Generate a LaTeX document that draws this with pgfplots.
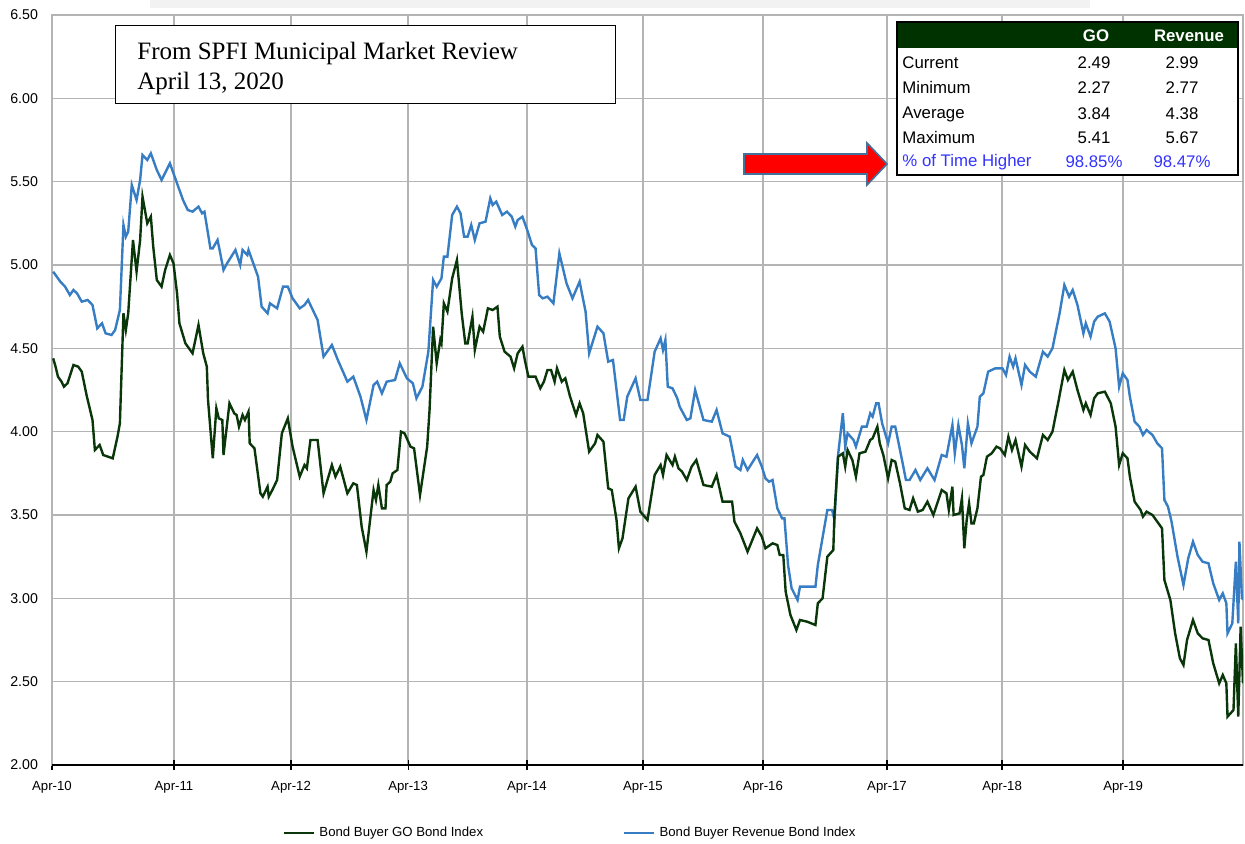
\documentclass[border=0pt]{standalone}
\usepackage{pgfplots}
\pgfplotsset{compat=1.18}
\usepackage{fontspec}
\setmainfont{Liberation Sans}
\newfontfamily\timesfont{Liberation Serif}
\definecolor{gocol}{RGB}{10,55,10}
\definecolor{revcol}{RGB}{55,125,195}
\definecolor{hdrcol}{RGB}{0,50,0}
\definecolor{pctcol}{RGB}{51,51,255}
\definecolor{gridcol}{RGB}{180,180,180}
\definecolor{arrowedge}{RGB}{65,113,156}
\begin{document}
\begin{tikzpicture}
\path[use as bounding box] (-26pt,-39.5pt) rectangle (596.5pt,382.5pt);
\fill[black!5] (49pt,378.5pt) rectangle (519pt,382.5pt);
\begin{axis}[
  scale only axis, width=595.5pt, height=375pt,
  at={(0,0)}, anchor=south west,
  xmin=0, xmax=10, ymin=2, ymax=6.5,
  xtick={0,1.024,2.007,2.99,3.988,4.962,5.97,7.011,7.977,8.993},
  xticklabels={Apr-10,Apr-11,Apr-12,Apr-13,Apr-14,Apr-15,Apr-16,Apr-17,Apr-18,Apr-19},
  ytick={2,2.5,3,3.5,4,4.5,5,5.5,6,6.5},
  xtick pos=bottom, ytick pos=left,
  grid=major, major grid style={draw=gridcol, line width=0.7pt},
  axis line style={draw=gridcol, line width=0.7pt},
  tick align=center, major tick length=5pt,
  xtick style={draw=black, line width=0.6pt},
  ytick style={draw=none},
  /pgf/number format/assume math mode=true,
  tick label style={font=\fontsize{6.6}{8}\selectfont},
  yticklabel style={font=\fontsize{7.1}{8}\selectfont, /pgf/number format/.cd, fixed, fixed zerofill, precision=2},
  yticklabel shift=1pt,
  xticklabel shift=2pt,
  legend style={at={(0.436,-0.0907)}, anchor=center, legend columns=2, draw=none,
    font=\fontsize{6.6}{8}\selectfont, fill=none,
    /tikz/every even column/.append style={column sep=68pt}},
  legend image code/.code={\draw[#1] (0pt,0pt) -- (15pt,0pt);},
]
\addplot[no markers, color=revcol, line width=1.2pt, forget plot] coordinates {
(0.01,4.96)(0.07,4.90)(0.11,4.87)(0.15,4.82)(0.18,4.85)(0.21,4.83)(0.25,4.78)(0.30,4.79)(0.34,4.76)(0.38,4.62)
(0.42,4.65)(0.45,4.59)(0.50,4.58)(0.53,4.61)(0.57,4.73)(0.60,5.24)(0.62,5.17)(0.64,5.20)(0.67,5.48)(0.71,5.39)
(0.74,5.51)(0.76,5.66)(0.80,5.63)(0.83,5.67)(0.88,5.57)(0.92,5.51)(0.99,5.61)(1.05,5.49)(1.10,5.39)(1.14,5.33)
(1.18,5.32)(1.23,5.35)(1.26,5.31)(1.28,5.32)(1.33,5.10)(1.35,5.10)(1.39,5.15)(1.41,5.08)(1.44,4.97)(1.47,5.01)
(1.54,5.09)(1.58,5.00)(1.60,5.09)(1.64,5.06)(1.65,5.09)(1.69,5.01)(1.73,4.93)(1.76,4.75)(1.81,4.71)(1.83,4.77)
(1.89,4.74)(1.94,4.87)(1.98,4.87)(2.02,4.80)(2.08,4.74)(2.12,4.76)(2.15,4.79)(2.23,4.67)(2.28,4.45)(2.35,4.52)
(2.40,4.43)(2.48,4.30)(2.53,4.33)(2.59,4.21)(2.64,4.07)(2.70,4.28)(2.73,4.30)(2.77,4.23)(2.81,4.30)(2.88,4.31)
(2.92,4.41)(2.98,4.32)(3.03,4.29)(3.06,4.20)(3.11,4.27)(3.16,4.48)(3.20,4.91)(3.23,4.87)(3.27,4.92)(3.29,5.05)
(3.32,5.05)(3.36,5.30)(3.40,5.35)(3.43,5.31)(3.46,5.17)(3.49,5.17)(3.52,5.24)(3.55,5.15)(3.59,5.25)(3.64,5.26)
(3.68,5.40)(3.70,5.36)(3.73,5.38)(3.78,5.30)(3.82,5.32)(3.86,5.29)(3.89,5.23)(3.91,5.27)(3.95,5.29)(3.99,5.21)
(4.03,5.12)(4.06,5.10)(4.09,4.82)(4.12,4.80)(4.16,4.81)(4.21,4.77)(4.26,5.07)(4.32,4.89)(4.37,4.80)(4.43,4.90)
(4.48,4.72)(4.51,4.47)(4.58,4.63)(4.63,4.59)(4.67,4.42)(4.71,4.43)(4.77,4.07)(4.80,4.07)(4.83,4.21)(4.90,4.32)
(4.94,4.19)(5.00,4.19)(5.06,4.48)(5.11,4.56)(5.13,4.49)(5.15,4.55)(5.17,4.27)(5.21,4.26)(5.25,4.20)(5.27,4.15)
(5.33,4.07)(5.36,4.08)(5.40,4.25)(5.47,4.07)(5.54,4.06)(5.58,4.13)(5.63,3.99)(5.69,3.97)(5.74,3.79)(5.78,3.77)
(5.80,3.83)(5.84,3.77)(5.92,3.86)(5.96,3.79)(5.99,3.72)(6.02,3.70)(6.05,3.71)(6.09,3.54)(6.13,3.48)(6.15,3.48)
(6.18,3.20)(6.21,3.06)(6.26,2.99)(6.28,3.07)(6.41,3.07)(6.43,3.20)(6.51,3.53)(6.55,3.53)(6.57,3.47)(6.60,3.86)
(6.64,4.11)(6.66,3.91)(6.68,3.99)(6.73,3.95)(6.75,3.91)(6.80,4.03)(6.84,4.03)(6.87,4.11)(6.89,4.09)(6.92,4.17)
(6.94,4.17)(6.97,4.05)(7.02,3.93)(7.05,4.03)(7.08,4.03)(7.12,3.89)(7.17,3.71)(7.20,3.71)(7.25,3.77)(7.29,3.71)
(7.35,3.78)(7.41,3.71)(7.47,3.86)(7.51,3.85)(7.56,4.04)(7.58,3.87)(7.61,4.04)(7.64,3.92)(7.66,3.78)(7.69,4.05)
(7.72,3.93)(7.77,4.03)(7.79,4.21)(7.82,4.23)(7.86,4.36)(7.92,4.38)(7.98,4.38)(8.01,4.34)(8.04,4.45)(8.07,4.39)
(8.09,4.44)(8.14,4.28)(8.17,4.40)(8.21,4.36)(8.26,4.33)(8.32,4.48)(8.36,4.45)(8.40,4.50)(8.46,4.71)(8.50,4.88)
(8.54,4.81)(8.57,4.85)(8.61,4.76)(8.66,4.59)(8.68,4.65)(8.72,4.57)(8.75,4.66)(8.78,4.69)(8.84,4.71)(8.88,4.66)
(8.93,4.50)(8.96,4.27)(8.99,4.35)(9.03,4.31)(9.05,4.21)(9.09,4.06)(9.13,4.03)(9.16,3.98)(9.19,4.01)(9.24,3.98)
(9.28,3.93)(9.32,3.90)(9.34,3.59)(9.37,3.55)(9.40,3.46)(9.45,3.25)(9.50,3.08)(9.54,3.24)(9.58,3.34)(9.62,3.26)
(9.66,3.22)(9.71,3.21)(9.75,3.09)(9.80,2.99)(9.83,3.03)(9.86,2.97)(9.87,2.79)(9.91,2.85)(9.94,3.22)(9.96,2.85)
(9.97,3.34)(9.99,3.01)(10.00,2.99)
};
\addplot[no markers, color=gocol, line width=1.2pt, forget plot] coordinates {
(0.01,4.44)(0.03,4.39)(0.05,4.33)(0.08,4.30)(0.10,4.27)(0.13,4.29)(0.18,4.40)(0.22,4.39)(0.25,4.36)(0.29,4.22)
(0.34,4.07)(0.36,3.89)(0.40,3.92)(0.43,3.86)(0.47,3.85)(0.51,3.84)(0.55,3.97)(0.57,4.05)(0.60,4.71)(0.62,4.61)
(0.64,4.71)(0.68,5.15)(0.71,4.96)(0.74,5.15)(0.76,5.41)(0.80,5.25)(0.83,5.29)(0.85,5.11)(0.88,4.91)(0.92,4.87)
(0.95,4.97)(0.99,5.06)(1.02,5.01)(1.05,4.83)(1.07,4.65)(1.12,4.53)(1.18,4.47)(1.23,4.64)(1.27,4.47)(1.30,4.39)
(1.31,4.19)(1.35,3.84)(1.38,4.14)(1.40,4.08)(1.43,4.07)(1.44,3.86)(1.49,4.17)(1.53,4.11)(1.55,4.10)(1.57,4.03)
(1.60,4.10)(1.62,4.07)(1.65,4.12)(1.66,3.93)(1.70,3.90)(1.75,3.63)(1.77,3.61)(1.81,3.67)(1.82,3.61)(1.85,3.65)
(1.89,3.71)(1.93,3.99)(1.98,4.08)(2.02,3.91)(2.08,3.73)(2.12,3.80)(2.14,3.78)(2.17,3.95)(2.23,3.95)(2.28,3.63)
(2.35,3.80)(2.38,3.73)(2.42,3.79)(2.48,3.63)(2.53,3.69)(2.56,3.68)(2.60,3.43)(2.64,3.28)(2.70,3.65)(2.72,3.59)
(2.74,3.68)(2.77,3.54)(2.80,3.54)(2.81,3.68)(2.84,3.70)(2.86,3.75)(2.90,3.77)(2.93,4.00)(2.96,3.99)(3.01,3.91)
(3.04,3.90)(3.09,3.62)(3.15,3.91)(3.17,4.13)(3.20,4.63)(3.23,4.41)(3.26,4.55)(3.27,4.53)(3.29,4.77)(3.32,4.72)
(3.36,4.92)(3.40,5.03)(3.44,4.71)(3.47,4.53)(3.49,4.53)(3.53,4.69)(3.55,4.49)(3.59,4.63)(3.62,4.60)(3.66,4.74)
(3.70,4.73)(3.74,4.75)(3.76,4.57)(3.80,4.48)(3.85,4.45)(3.88,4.38)(3.91,4.47)(3.95,4.51)(3.97,4.43)(4.00,4.33)
(4.06,4.33)(4.10,4.26)(4.13,4.30)(4.16,4.37)(4.19,4.37)(4.22,4.30)(4.24,4.38)(4.28,4.30)(4.31,4.32)(4.35,4.21)
(4.40,4.10)(4.43,4.17)(4.46,4.11)(4.51,3.88)(4.56,3.93)(4.58,3.98)(4.63,3.94)(4.67,3.66)(4.70,3.65)(4.74,3.47)
(4.76,3.30)(4.79,3.36)(4.84,3.60)(4.90,3.67)(4.94,3.52)(5.00,3.47)(5.06,3.74)(5.11,3.80)(5.13,3.74)(5.16,3.86)
(5.21,3.80)(5.23,3.85)(5.26,3.78)(5.29,3.76)(5.33,3.71)(5.37,3.79)(5.41,3.83)(5.47,3.68)(5.54,3.67)(5.58,3.74)
(5.63,3.58)(5.71,3.58)(5.73,3.46)(5.78,3.39)(5.84,3.28)(5.88,3.35)(5.92,3.42)(5.96,3.37)(5.99,3.30)(6.05,3.33)
(6.09,3.32)(6.11,3.26)(6.14,3.26)(6.16,3.04)(6.20,2.90)(6.25,2.81)(6.28,2.87)(6.34,2.86)(6.41,2.84)(6.43,2.97)
(6.47,3.00)(6.51,3.25)(6.56,3.29)(6.57,3.51)(6.60,3.85)(6.64,3.87)(6.66,3.79)(6.68,3.89)(6.72,3.83)(6.75,3.73)
(6.78,3.87)(6.83,3.88)(6.87,3.95)(6.89,3.96)(6.93,4.03)(6.95,3.93)(6.98,3.86)(7.02,3.72)(7.05,3.83)(7.08,3.82)
(7.12,3.69)(7.16,3.54)(7.20,3.53)(7.23,3.60)(7.27,3.52)(7.31,3.53)(7.35,3.58)(7.40,3.50)(7.47,3.65)(7.51,3.63)
(7.53,3.53)(7.56,3.67)(7.57,3.50)(7.62,3.51)(7.64,3.60)(7.66,3.30)(7.68,3.47)(7.70,3.57)(7.72,3.45)(7.74,3.45)
(7.77,3.54)(7.80,3.73)(7.82,3.74)(7.85,3.85)(7.89,3.87)(7.93,3.91)(7.96,3.90)(8.00,3.86)(8.03,3.97)(8.06,3.89)
(8.09,3.95)(8.14,3.79)(8.17,3.92)(8.21,3.88)(8.27,3.84)(8.32,3.98)(8.36,3.95)(8.40,4.00)(8.45,4.18)(8.50,4.37)
(8.53,4.31)(8.57,4.36)(8.61,4.25)(8.66,4.13)(8.68,4.17)(8.72,4.10)(8.75,4.20)(8.78,4.23)(8.84,4.24)(8.89,4.17)
(8.93,4.03)(8.96,3.80)(8.99,3.87)(9.03,3.84)(9.05,3.73)(9.09,3.58)(9.14,3.53)(9.16,3.49)(9.19,3.52)(9.24,3.50)
(9.28,3.46)(9.32,3.42)(9.34,3.11)(9.39,2.99)(9.43,2.79)(9.47,2.64)(9.50,2.60)(9.53,2.75)(9.58,2.87)(9.62,2.79)
(9.66,2.76)(9.71,2.75)(9.75,2.61)(9.80,2.49)(9.83,2.54)(9.86,2.49)(9.87,2.29)(9.92,2.33)(9.94,2.73)(9.96,2.29)
(9.98,2.83)(10.00,2.49)
};
\addlegendimage{color=gocol, line width=1.2pt}
\addlegendentry{Bond Buyer GO Bond Index}
\addlegendimage{color=revcol, line width=1.2pt}
\addlegendentry{Bond Buyer Revenue Bond Index}
\draw[black, line width=0.8pt] (axis cs:0,2) -- (axis cs:10,2);
\end{axis}
% text box
\node[draw=black, line width=0.7pt, fill=white, minimum width=250pt, minimum height=39pt, anchor=north west, inner sep=0pt] at (31.5pt,370pt) {};
\node[anchor=base west, inner sep=0pt, font=\timesfont\fontsize{12.5}{15}\selectfont] at (42.5pt,352.5pt) {From SPFI Municipal Market Review};
\node[anchor=base west, inner sep=0pt, font=\timesfont\fontsize{12.5}{15}\selectfont] at (42.5pt,337.5pt) {April 13, 2020};
% arrow
\filldraw[fill=red, draw=arrowedge, line width=0.8pt]
  (346pt,305.5pt) -- (407.5pt,305.5pt) -- (407.5pt,311pt) -- (417.5pt,300.5pt) -- (407.5pt,290pt) -- (407.5pt,295.5pt) -- (346pt,295.5pt) -- cycle;
% table
\fill[white] (422.5pt,295pt) rectangle (593pt,371.5pt);
\fill[hdrcol] (422.5pt,358.5pt) rectangle (593pt,371.5pt);
\draw[black, line width=0.8pt] (422.5pt,295pt) rectangle (593pt,371.5pt);
\begin{scope}[every node/.style={inner sep=0pt, font=\fontsize{8.4}{10}\selectfont}]
\node[white, font=\bfseries\fontsize{8.4}{10}\selectfont] at (522pt,364.5pt) {GO};
\node[white, font=\bfseries\fontsize{8.4}{10}\selectfont] at (568.5pt,364.5pt) {Revenue};
\node[anchor=west] at (425pt,351pt) {Current};
\node[anchor=west] at (425pt,338.5pt) {Minimum};
\node[anchor=west] at (425pt,325.5pt) {Average};
\node[anchor=west] at (425pt,313.5pt) {Maximum};
\node[anchor=west, text=pctcol] at (425pt,301.5pt) {\% of Time Higher};
\node at (521pt,351pt) {2.49};
\node at (521pt,338.5pt) {2.27};
\node at (521pt,325.5pt) {3.84};
\node at (521pt,313.5pt) {5.41};
\node[text=pctcol] at (521pt,301.5pt) {98.85\%};
\node at (565pt,351pt) {2.99};
\node at (565pt,338.5pt) {2.77};
\node at (565pt,325.5pt) {4.38};
\node at (565pt,313.5pt) {5.67};
\node[text=pctcol] at (565pt,301.5pt) {98.47\%};
\end{scope}
\end{tikzpicture}
\end{document}
